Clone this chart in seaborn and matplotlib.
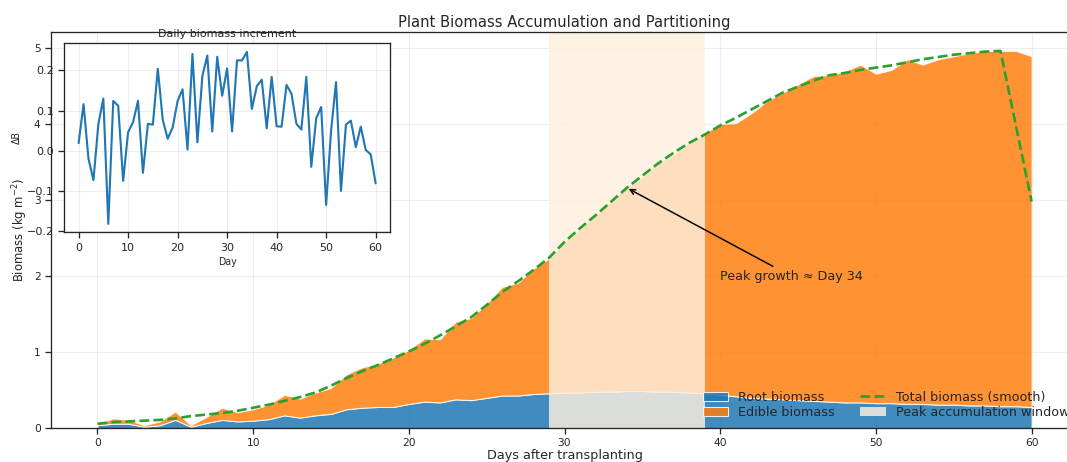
import matplotlib
matplotlib.use("Agg")
import matplotlib.pyplot as plt
import seaborn as sns
import pandas as pd

# values
days = list(range(61))
root_biomass = [0.04, 0.06, 0.06, 0.02, 0.04, 0.11, 0.02, 0.07, 0.11, 0.09,
                0.10, 0.12, 0.17, 0.14, 0.17, 0.19, 0.25, 0.27, 0.28, 0.28,
                0.32, 0.35, 0.34, 0.38, 0.37, 0.40, 0.43, 0.43, 0.45, 0.46,
                0.47, 0.47, 0.48, 0.48, 0.49, 0.49, 0.48, 0.48, 0.47, 0.46,
                0.44, 0.42, 0.40, 0.39, 0.38, 0.37, 0.36, 0.35, 0.34, 0.34,
                0.33, 0.33, 0.32, 0.32, 0.31, 0.31, 0.30, 0.30, 0.29, 0.29,
                0.28]
edible_biomass = [0.02, 0.07, 0.05, 0.02, 0.05, 0.11, 0.02, 0.08, 0.16, 0.12,
                  0.15, 0.19, 0.27, 0.25, 0.30, 0.34, 0.46, 0.53, 0.57, 0.65,
                  0.71, 0.83, 0.83, 1.02, 1.08, 1.24, 1.43, 1.48, 1.65, 1.77,
                  1.98, 2.15, 2.32, 2.52, 2.68, 2.81, 3.00, 3.12, 3.28, 3.42,
                  3.56, 3.59, 3.74, 3.91, 4.03, 4.15, 4.27, 4.29, 4.35, 4.44,
                  4.33, 4.38, 4.53, 4.46, 4.54, 4.58, 4.63, 4.66, 4.67, 4.67,
                  4.61]
total_smooth = [0.06, 0.08, 0.09, 0.10, 0.11, 0.13, 0.16, 0.18, 0.20, 0.23,
                0.27, 0.31, 0.36, 0.41, 0.47, 0.56, 0.66, 0.75, 0.83, 0.92,
                1.01, 1.11, 1.22, 1.34, 1.46, 1.62, 1.79, 1.93, 2.08, 2.24,
                2.45, 2.63, 2.80, 2.98, 3.16, 3.32, 3.48, 3.62, 3.75, 3.86,
                3.98, 4.08, 4.19, 4.30, 4.41, 4.49, 4.57, 4.64, 4.67, 4.71,
                4.74, 4.77, 4.81, 4.85, 4.88, 4.91, 4.93, 4.95, 4.96, 3.97,
                2.98]
daily_increment = [0.019, 0.116, -0.020, -0.073, 0.067, 0.130, -0.182, 0.124, 0.112, -0.075,
                   0.046, 0.071, 0.124, -0.055, 0.067, 0.065, 0.204, 0.077, 0.030, 0.058,
                   0.124, 0.153, 0.003, 0.241, 0.021, 0.186, 0.237, 0.048, 0.234, 0.137,
                   0.205, 0.048, 0.225, 0.225, 0.246, 0.104, 0.161, 0.177, 0.056, 0.184,
                   0.061, 0.060, 0.164, 0.142, 0.067, 0.053, 0.184, -0.040, 0.081, 0.109,
                   -0.135, 0.050, 0.171, -0.100, 0.065, 0.075, 0.009, 0.060, 0.002, -0.009,
                   -0.081]
window_start, window_end = 29, 39
peak_day = 34

sns.set_theme(style="ticks", rc={"axes.titlesize": 14, "axes.labelsize": 12,
                                 "xtick.labelsize": 10, "ytick.labelsize": 10,
                                 "legend.fontsize": 12})
plt.rcParams['font.family'] = ['DejaVu Sans']

df = pd.DataFrame({"day": days, "smooth": total_smooth, "dB": daily_increment})

fig = plt.figure(figsize=(1067 / 76.2, 462 / 76.2), dpi=76.2)
ax = fig.add_axes([0.0476, 0.073, 0.963, 0.858])

areas = ax.stackplot(days, root_biomass, edible_biomass,
                     labels=["Root biomass", "Edible biomass"],
                     colors=["tab:blue", "tab:orange"], alpha=0.85)
span = ax.axvspan(window_start, window_end, color="#fdf0de", alpha=0.82,
                  lw=0, label="Peak accumulation window")
sns.lineplot(data=df, x="day", y="smooth", ax=ax, color="tab:green",
             linestyle="--", linewidth=2.5, label="Total biomass (smooth)")
line = ax.get_lines()[0]

ax.annotate("Peak growth ≈ Day 34", xy=(peak_day, total_smooth[peak_day]),
            xytext=(40, 1.95), fontsize=12,
            arrowprops=dict(arrowstyle="->", color="black", lw=1.4))

ax.set_xlim(-3, 63)
ax.set_ylim(0, 5.21)
ax.grid(True, alpha=0.35)
ax.set_axisbelow(True)
ax.set_title("Plant Biomass Accumulation and Partitioning", pad=5)
ax.set_xlabel("Days after transplanting", labelpad=1)
ax.set_ylabel("Biomass (kg m$^{-2}$)", fontsize=11)
ax.legend([areas[0], areas[1], line, span],
          ["Root biomass", "Edible biomass", "Total biomass (smooth)", "Peak accumulation window"],
          loc="lower right", ncol=2, frameon=False, labelspacing=0.2,
          borderaxespad=0.3)

# inset: daily increment
axin = ax.inset_axes([0.0126, 0.494, 0.318, 0.477])
sns.lineplot(data=df, x="day", y="dB", ax=axin, color="tab:blue", linewidth=2)
axin.set_title("Daily biomass increment", fontsize=10.5, pad=6)
axin.set_xlabel("Day", fontsize=9)
axin.set_ylabel("ΔB", fontsize=9)
axin.tick_params(labelsize=10.5)
axin.grid(True, alpha=0.35)

fig.savefig("out.png", dpi=76.2)
